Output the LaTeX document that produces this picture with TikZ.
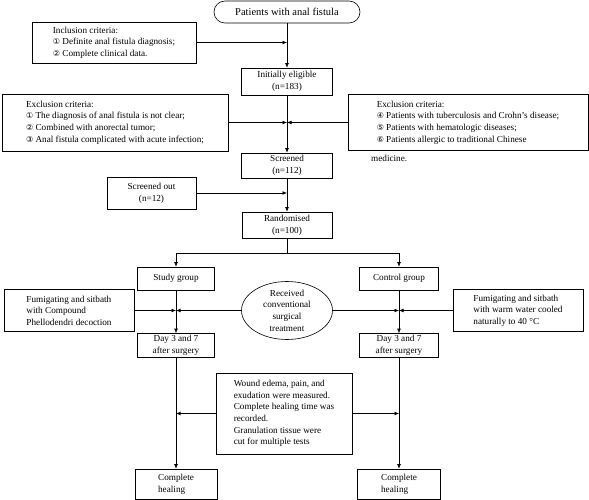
\documentclass[tikz,border=0pt]{standalone}
\usepackage{fontspec}
\setmainfont{Liberation Serif}
\newfontfamily\symfont{DejaVu Sans}
\usetikzlibrary{shapes.geometric,arrows.meta}
\newcommand\cn[1]{{\symfont\fontsize{8}{8}\selectfont #1}}
\tikzset{
  txt/.style={font=\fontsize{9.2}{11.6}\selectfont},
  box/.style={txt, draw, line width=0.6pt, inner sep=0pt, align=left},
  cbox/.style={box, align=center},
  arr/.style={line width=0.6pt, -{Latex[length=4.5pt,width=3.8pt]}},
  ln/.style={line width=0.6pt},
}
\begin{document}
\begin{tikzpicture}[x=1pt,y=-1pt]
\useasboundingbox (0,0) rectangle (589,500);
% nodes
\node[cbox, rounded corners=11pt, minimum width=146pt, minimum height=22pt, font=\fontsize{10.5}{12}\selectfont] (top) at (287,12) {Patients with anal fistula};
\node[box, minimum width=164pt, minimum height=41pt] (incl) at (114,42.5) {Inclusion criteria:\\ \cn{①} Definite anal fistula diagnosis;\\ \cn{②} Complete clinical data.};
\node[cbox, minimum width=91pt, minimum height=27pt] (init) at (287,81.5) {Initially eligible\\(n=183)};
\node[box, minimum width=226pt, minimum height=57pt] (exclL) at (115,122.5) {Exclusion criteria:\\ \cn{①} The diagnosis of anal fistula is not clear;\\ \cn{②} Combined with anorectal tumor;\\ \cn{③} Anal fistula complicated with acute infection;};
\node[box, minimum width=240pt, minimum height=56pt] (exclR) at (468,122.5) {Exclusion criteria:\\ \cn{④} Patients with tuberculosis and Crohn's disease;\\ \cn{⑤} Patients with hematologic diseases;\\ \cn{⑥} Patients allergic to traditional Chinese};
\node[txt, anchor=west, inner sep=0pt] (exmed) at (371,158.5) {medicine.};
\node[cbox, minimum width=91pt, minimum height=25pt] (scr) at (287,165.5) {Screened\\(n=112)};
\node[cbox, minimum width=89pt, minimum height=32pt] (sout) at (151.5,193) {Screened out\\(n=12)};
\node[cbox, minimum width=90pt, minimum height=26pt] (rand) at (287,225) {Randomised\\(n=100)};
\node[cbox, minimum width=77pt, minimum height=23pt] (study) at (176,278.5) {Study group};
\node[cbox, minimum width=79pt, minimum height=23pt] (ctrl) at (399,278.5) {Control group};
\node[box, minimum width=130pt, minimum height=42pt] (fumL) at (69,310.5) {Fumigating and sitbath\\with Compound\\Phellodendri decoction};
\node[draw, ellipse, line width=0.6pt, inner sep=0pt, minimum width=91pt, minimum height=58pt] (ell) at (287,310.5) {};
\node[txt, align=center, inner sep=0pt] (ellt) at (ell.center) {Received\\conventional\\surgical\\treatment};
\node[box, minimum width=130pt, minimum height=42pt] (fumR) at (518,310.5) {Fumigating and sitbath\\with warm water cooled\\naturally to 40 °C};
\node[cbox, minimum width=77pt, minimum height=24pt] (dayL) at (176,345.5) {Day 3 and 7\\after surgery};
\node[cbox, minimum width=79pt, minimum height=24pt] (dayR) at (399,345.5) {Day 3 and 7\\after surgery};
\node[box, minimum width=136pt, minimum height=81pt] (wound) at (284,413.5) {Wound edema, pain, and\\exudation were measured.\\Complete healing time was\\recorded.\\Granulation tissue were\\cut for multiple tests};
\node[box, minimum width=82pt, minimum height=30pt] (chL) at (176,484) {Complete\\healing};
\node[box, minimum width=83pt, minimum height=30pt] (chR) at (399,484) {Complete\\healing};
% coordinates
\coordinate (br) at (287,253);
% connectors
\draw[arr] (top.south) -- (init.north);
\draw[arr] (incl.east) -- (incl.east -| top.south);
\draw[arr] (init.south) -- (scr.north);
\draw[arr] (exclL.east) -- (exclL.east -| init.south);
\draw[arr] (exclR.west) -- (exclR.west -| init.south);
\draw[arr] (scr.south) -- (rand.north);
\draw[arr] (sout.east) -- (sout.east -| scr.south);
\draw[ln] (rand.south) -- (br);
\draw[arr] (br) -| (study.north);
\draw[arr] (br) -| (ctrl.north);
\draw[arr] (study.south) -- (dayL.north);
\draw[arr] (ctrl.south) -- (dayR.north);
\draw[arr] (fumL.east) -- (fumL.east -| study.south);
\draw[arr] (ell.west) -- (ell.west -| study.south);
\draw[arr] (ell.east) -- (ell.east -| ctrl.south);
\draw[arr] (fumR.west) -- (fumR.west -| ctrl.south);
\draw[arr] (dayL.south) -- (chL.north);
\draw[arr] (dayR.south) -- (chR.north);
\draw[arr] (wound.west) -- (wound.west -| dayL.south);
\draw[arr] (wound.east) -- (wound.east -| dayR.south);
\end{tikzpicture}
\end{document}
